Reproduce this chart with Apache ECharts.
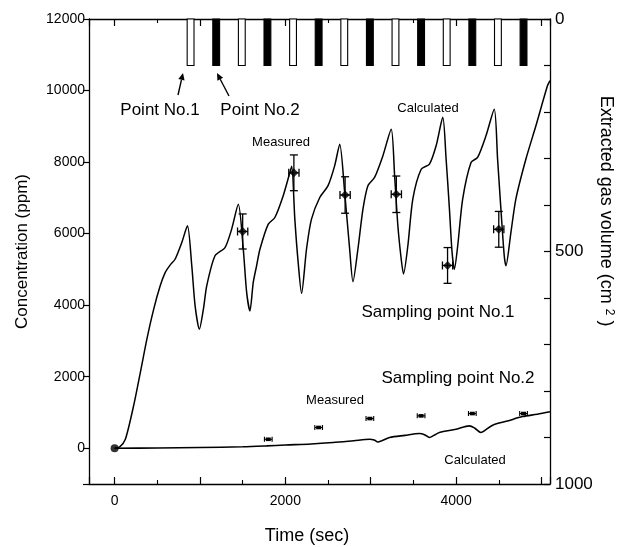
<!DOCTYPE html>
<html>
<head>
<meta charset="utf-8">
<script src="https://cdn.jsdelivr.net/npm/echarts@6/dist/echarts.min.js"></script>
<style>html,body{margin:0;padding:0;background:#fff;overflow:hidden}#c{width:619px;height:547px}</style>
</head>
<body>
<div id="c"></div>
<script>
// ---- data ----
const calc1T = [0,60,126,222,300,378,458,534,592,650,710,787,853,904,943,993,1040,1079,1176,1293,1371,1449,1507,1547,1585,1624,1663,1703,1800,1877,1975,2053,2075,2111,2150,2190,2248,2306,2403,2500,2578,2637,2695,2753,2792,2850,2909,2967,3045,3143,3240,3280,3318,3357,3384,3435,3493,3591,3688,3766,3844,3883,3922,3953,3980,4019,4077,4175,4252,4350,4447,4486,4525,4564,4584,4642,4700,4818,4935,5070,5100];
const calc1C = [0,40,250,1180,2100,3050,3890,4540,4910,5120,5290,5750,6220,5100,3980,3330,3890,4540,5380,5610,6125,6820,5570,4350,3840,4635,5100,5570,6265,6450,7060,7710,7880,6405,5195,4330,5570,6405,7010,7340,7900,8500,7150,5570,4655,5570,6685,7340,7570,8180,8920,7615,6220,5290,4870,5660,6965,7800,7945,8455,9250,8085,6685,5475,5005,5660,6965,7990,8130,8735,9480,8085,6685,5380,5100,6030,6965,8085,9015,10134,10280];

const calc2T = [0,500,1000,1500,1780,2000,2300,2558,2800,2987,3040,3084,3130,3220,3400,3570,3630,3688,3740,3805,4000,4155,4220,4290,4350,4428,4600,4778,4950,5100];
const calc2C = [0,5,20,40,65,90,120,160,210,250,230,175,210,300,360,410,380,300,360,440,530,625,560,440,520,645,760,885,950,1020];

const meas1T = [1500,2100,2700,3300,3900,4500];
const meas1C = [6060,7700,7080,7100,5110,6120];
const meas1ErrC = [490,500,510,510,500,500];
const meas1ErrT = [60,60,60,60,60,60];

const meas2T = [1800,2390,2990,3590,4190,4790];
const meas2C = [250,580,830,905,970,970];
const meas2ErrT = [45,45,45,45,45,45];

const originT = [0];
const originC = [0];

// sampling periods (start, end) in sec, extracted gas volume axis 0..100
const samp1Start = [850,1450,2050,2650,3250,3850,4450];
const samp2Start = [1150,1750,2350,2950,3550,4150,4750];
const sampDur = 80;
const sampVol = 100;

// tick labels
const xLabels = [0,2000,4000];
const yLabels = [0,2000,4000,6000,8000,10000,12000];
const y2Labels = [0,500,1000];

// ---- build ----
const zip = (a,b) => a.map((v,i)=>[v,b[i]]);
const FONT = 'Liberation Sans, Arial, sans-serif';

const chart = echarts.init(document.getElementById('c'), null, {renderer:'canvas'});

const axisLineStyle = {color:'#000', width:1.3};

function errRender1(params, api){
  const t = api.value(0), c = api.value(1), ec = api.value(2), et = api.value(3);
  const top = api.coord([t, c+ec]), bot = api.coord([t, c-ec]);
  const l = api.coord([t-et, c]), r = api.coord([t+et, c]);
  const cap = 4;
  const st = {stroke:'#000', lineWidth:1.3};
  return {type:'group', children:[
    {type:'line', shape:{x1:top[0],y1:top[1],x2:bot[0],y2:bot[1]}, style:st},
    {type:'line', shape:{x1:top[0]-cap,y1:top[1],x2:top[0]+cap,y2:top[1]}, style:st},
    {type:'line', shape:{x1:bot[0]-cap,y1:bot[1],x2:bot[0]+cap,y2:bot[1]}, style:st},
    {type:'line', shape:{x1:l[0],y1:l[1],x2:r[0],y2:r[1]}, style:st},
    {type:'line', shape:{x1:l[0],y1:l[1]-cap,x2:l[0],y2:l[1]+cap}, style:st},
    {type:'line', shape:{x1:r[0],y1:r[1]-cap,x2:r[0],y2:r[1]+cap}, style:st}
  ]};
}
function errRender2(params, api){
  const t = api.value(0), c = api.value(1), et = api.value(2);
  const l = api.coord([t-et, c]), r = api.coord([t+et, c]);
  const cap = 2.5;
  const st = {stroke:'#000', lineWidth:1.1};
  return {type:'group', children:[
    {type:'line', shape:{x1:l[0],y1:l[1],x2:r[0],y2:r[1]}, style:st},
    {type:'line', shape:{x1:l[0],y1:l[1]-cap,x2:l[0],y2:l[1]+cap}, style:st},
    {type:'line', shape:{x1:r[0],y1:r[1]-cap,x2:r[0],y2:r[1]+cap}, style:st},
    {type:'rect', shape:{x:(l[0]+r[0])/2-2.5,y:l[1]-1.8,width:5,height:3.6}, style:{fill:'#000'}}
  ]};
}
function sampRender(fillColor){
  return function(params, api){
    const s = api.value(0), e = api.value(1), v = api.value(2);
    const p0 = api.coord([s, 0]), p1 = api.coord([e, v]);
    return {type:'rect', shape:{x:p0[0], y:Math.min(p0[1],p1[1]), width:p1[0]-p0[0], height:Math.abs(p1[1]-p0[1])},
      style:{fill:fillColor, stroke:'#000', lineWidth:1.1}};
  };
}

function arrow(x1,y1,x2,y2){
  const ang = Math.atan2(y2-y1, x2-x1), L=7, W=3.2;
  const bx = x2 - L*Math.cos(ang), by = y2 - L*Math.sin(ang);
  const px = -Math.sin(ang)*W, py = Math.cos(ang)*W;
  return [
    {type:'line', shape:{x1:x1,y1:y1,x2:bx,y2:by}, style:{stroke:'#000', lineWidth:1.4}},
    {type:'polygon', shape:{points:[[x2,y2],[bx+px,by+py],[bx-px,by-py]]}, style:{fill:'#000'}}
  ];
}
function txt(x,y,s,size){
  return {type:'text', x:x, y:y, style:{text:s, fill:'#000', font:size+'px '+FONT, textAlign:'center', textVerticalAlign:'middle'}};
}

const option = {
  backgroundColor:'#fff',
  animation:false,
  textStyle:{fontFamily:FONT},
  grid:{left:89, right:69, top:19, bottom:63, containLabel:false, outerBoundsMode:'none'},
  xAxis:[{
    type:'value', min:-300, max:5100, splitNumber:5, position:'bottom',
    axisLine:{show:true, lineStyle:axisLineStyle, onZero:false},
    axisTick:{show:true, inside:true, length:7, lineStyle:{color:'#000', width:1.2}},
    minorTick:{show:true, splitNumber:2, length:4, lineStyle:{color:'#000', width:1.1}},
    axisLabel:{color:'#000', fontSize:14, fontFamily:FONT, margin:10,
      formatter:v => xLabels.indexOf(v) >= 0 ? String(v) : ''},
    splitLine:{show:false}, minorSplitLine:{show:false}
  },{
    type:'value', min:-300, max:5100, splitNumber:5, position:'top',
    axisLine:{show:true, lineStyle:axisLineStyle, onZero:false},
    axisTick:{show:true, inside:true, length:7, lineStyle:{color:'#000', width:1.2}},
    minorTick:{show:true, splitNumber:2, length:4, lineStyle:{color:'#000', width:1.1}},
    axisLabel:{show:false}, splitLine:{show:false}
  }],
  yAxis:[{
    type:'value', min:-1000, max:12000, splitNumber:6, position:'left',
    axisLine:{show:true, lineStyle:axisLineStyle, onZero:false},
    axisTick:{show:true, inside:false, length:6, lineStyle:{color:'#000', width:1.2}},
    axisLabel:{color:'#000', fontSize:14, fontFamily:FONT, margin:4,
      formatter:v => yLabels.indexOf(v) >= 0 ? String(v) : ''},
    splitLine:{show:false},
    name:'Concentration (ppm)', nameLocation:'middle', nameGap:58,
    nameTextStyle:{color:'#000', fontSize:17, fontFamily:FONT}
  },{
    type:'value', min:0, max:1000, interval:100, inverse:true, position:'right',
    axisLine:{show:true, lineStyle:axisLineStyle, onZero:false},
    axisTick:{show:true, inside:true, length:6, lineStyle:{color:'#000', width:1.2}},
    axisLabel:{color:'#000', fontSize:17, fontFamily:FONT, margin:5,
      formatter:v => y2Labels.indexOf(v) >= 0 ? String(v) : ''},
    splitLine:{show:false}
  }],
  series:[
    {type:'line', name:'calc1', data:zip(calc1T,calc1C), smooth:0.25, symbol:'none',
      lineStyle:{color:'#000', width:1.5}, z:3},
    {type:'line', name:'calc2', data:zip(calc2T,calc2C), smooth:0.3, symbol:'none',
      lineStyle:{color:'#000', width:1.6}, z:3},
    {type:'custom', name:'err1', renderItem:errRender1,
      data:meas1T.map((t,i)=>[t, meas1C[i], meas1ErrC[i], meas1ErrT[i]]), z:4},
    {type:'scatter', name:'meas1', data:zip(meas1T,meas1C), symbol:'diamond', symbolSize:9,
      itemStyle:{color:'#000'}, z:5},
    {type:'custom', name:'err2', renderItem:errRender2,
      data:meas2T.map((t,i)=>[t, meas2C[i], meas2ErrT[i]]), z:4},
    {type:'scatter', name:'origin', data:zip(originT,originC), symbol:'circle', symbolSize:8,
      itemStyle:{color:'#000'}, z:5},
    {type:'custom', name:'samp1', yAxisIndex:1, renderItem:sampRender('#fff'),
      data:samp1Start.map(s=>[s, s+sampDur, sampVol]), z:6},
    {type:'custom', name:'samp2', yAxisIndex:1, renderItem:sampRender('#000'),
      data:samp2Start.map(s=>[s, s+sampDur, sampVol]), z:6}
  ],
  graphic:[
    txt(160,110,'Point No.1',17),
    txt(260,110,'Point No.2',17),
    ...arrow(178,95,183,73),
    ...arrow(229,96,217,73),
    txt(281,142,'Measured',13),
    txt(428,108,'Calculated',13),
    txt(438,312,'Sampling point No.1',17),
    txt(458,378,'Sampling point No.2',17),
    txt(335,400,'Measured',13),
    txt(475,460,'Calculated',13),
    txt(307,536,'Time (sec)',18),
    {type:'text', x:606, y:211, rotation:-Math.PI/2,
      style:{text:'Extracted gas volume (cm{s|2} )', fill:'#000', font:'18px '+FONT,
        textAlign:'center', textVerticalAlign:'middle',
        rich:{s:{fontSize:12, fontFamily:FONT, fill:'#000', verticalAlign:'top', padding:[0,0,0,5]}}}}
  ]
};
chart.setOption(option);
</script>
</body>
</html>
